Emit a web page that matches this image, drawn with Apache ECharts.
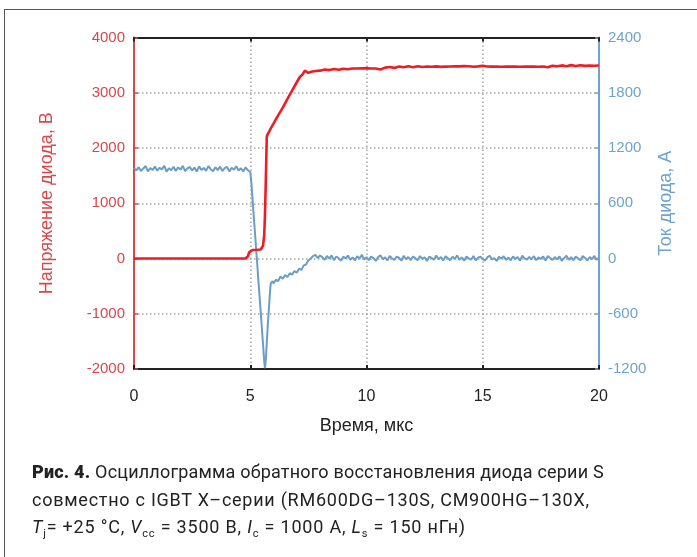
<!DOCTYPE html>
<html>
<head>
<meta charset="utf-8">
<script src="https://cdn.jsdelivr.net/npm/echarts@6/dist/echarts.min.js"></script>
<style>
  html, body { margin:0; padding:0; background:#fff; }
  #wrap { position:relative; width:697px; height:557px; overflow:hidden; }
  #frame { position:absolute; left:4px; top:9px; width:800px; height:700px; border:1.5px solid #555; box-sizing:border-box; }
  #chart { position:absolute; left:0; top:0; width:697px; height:557px; }
  #caption { position:absolute; left:32px; top:458px; font-family:"Roboto", "Liberation Sans", sans-serif; font-size:18px; color:#222; line-height:27.5px; white-space:nowrap; }
  #caption b { font-weight:900; }
  #caption sub { font-size:11px; vertical-align:-4px; }
  #l1 { letter-spacing:0.2px; }
  #l2 { letter-spacing:0.75px; }
  #l3 { letter-spacing:0.8px; }
</style>
</head>
<body>
<div id="wrap">
  <div id="frame"></div>
  <div id="chart"></div>
  <div id="caption">
    <div id="l1"><b>Рис. 4.</b> Осциллограмма обратного восстановления диода серии S</div>
    <div id="l2">совместно с IGBT X–серии (RM600DG–130S, CM900HG–130X,</div>
    <div id="l3"><i>T</i><sub>j</sub>= +25 °C, <i>V</i><sub>cc</sub> = 3500 В, <i>I</i><sub>c</sub> = 1000 А, <i>L</i><sub>s</sub> = 150 нГн)</div>
  </div>
</div>
<script>
// ---- data ----
const xTicks = [0, 5, 10, 15, 20];
const voltageTicks = [-2000, -1000, 0, 1000, 2000, 3000, 4000];
const currentTicks = [-1200, -600, 0, 600, 1200, 1800, 2400];

const timeV = [0, 2, 4.8, 4.85, 4.9, 4.95, 5.0, 5.1, 5.3, 5.45, 5.5, 5.55, 5.6, 5.63, 5.66, 5.69, 5.71, 5.74, 5.78, 5.82, 5.9, 6.0, 6.2, 6.4, 6.6, 6.8, 7.0, 7.14, 7.25, 7.35, 7.42, 7.5, 7.55, 7.62, 7.7, 7.8,
  8.0, 8.2, 8.4, 8.6, 8.8, 9.0, 9.2, 9.4, 9.6, 9.8, 10.0, 10.2, 10.4, 10.6, 10.8, 11.0, 11.2, 11.4, 11.6, 11.8, 12.0, 12.2, 12.4, 12.6, 12.8, 13.0, 13.2, 13.4, 13.6, 13.8, 14.0, 14.2, 14.4, 14.6, 14.8, 15.0, 15.2, 15.4, 15.6, 15.8, 16.0, 16.2, 16.4, 16.6, 16.8, 17.0, 17.2, 17.4, 17.6, 17.8, 18.0, 18.2, 18.4, 18.6, 18.8, 19.0, 19.2, 19.4, 19.6, 19.8, 20.0];
const voltage = [0, 0, 0, 5, 40, 110, 145, 155, 158, 162, 175, 230, 420, 750, 1250, 1800, 2200, 2240, 2220, 2300, 2370, 2440, 2590, 2730, 2890, 3040, 3190, 3290, 3330, 3400, 3420, 3360, 3330, 3380, 3370, 3395,
  3400, 3420, 3410, 3430, 3415, 3435, 3425, 3440, 3438, 3442, 3445, 3440, 3438, 3420, 3455, 3465, 3450, 3475, 3460, 3478, 3462, 3480, 3466, 3476, 3470, 3478, 3468, 3472, 3476, 3480, 3478, 3482, 3480, 3470, 3478, 3488, 3475, 3472, 3474, 3470, 3476, 3472, 3474, 3470, 3475, 3472, 3474, 3470, 3476, 3460, 3490, 3478, 3495, 3480, 3500, 3485, 3498, 3486, 3494, 3488, 3492];

const timeI = [
  0.0, 0.1, 0.2, 0.3, 0.4, 0.5, 0.6, 0.7, 0.8, 0.9, 1.0, 1.1, 1.2, 1.3, 1.4, 1.5, 1.6, 1.7, 1.8, 1.9,
  2.0, 2.1, 2.2, 2.3, 2.4, 2.5, 2.6, 2.7, 2.8, 2.9, 3.0, 3.1, 3.2, 3.3, 3.4, 3.5, 3.6, 3.7, 3.8, 3.9,
  4.0, 4.1, 4.2, 4.3, 4.4, 4.5, 4.6, 4.7, 4.8, 4.9,
  4.95, 5.0, 5.05, 5.1, 5.15, 5.2, 5.25, 5.3, 5.35, 5.4, 5.45, 5.5, 5.55, 5.58, 5.61, 5.63, 5.65, 5.68, 5.71, 5.75, 5.8, 5.85, 5.88, 5.92, 5.96,
  6.0, 6.1, 6.2, 6.3, 6.4, 6.5, 6.6, 6.7, 6.8, 6.9, 7.0, 7.1, 7.2, 7.3, 7.4, 7.5, 7.6, 7.7, 7.8, 7.9, 8.0,
  8.1, 8.2, 8.3, 8.4, 8.5, 8.6, 8.7, 8.8, 8.9, 9.0, 9.1, 9.2, 9.3, 9.4, 9.5, 9.6, 9.7, 9.8, 9.9, 10.0,
  10.1, 10.2, 10.3, 10.4, 10.5, 10.6, 10.7, 10.8, 10.9, 11.0, 11.1, 11.2, 11.3, 11.4, 11.5, 11.6, 11.7, 11.8, 11.9, 12.0,
  12.1, 12.2, 12.3, 12.4, 12.5, 12.6, 12.7, 12.8, 12.9, 13.0, 13.1, 13.2, 13.3, 13.4, 13.5, 13.6, 13.7, 13.8, 13.9, 14.0,
  14.1, 14.2, 14.3, 14.4, 14.5, 14.6, 14.7, 14.8, 14.9, 15.0, 15.1, 15.2, 15.3, 15.4, 15.5, 15.6, 15.7, 15.8, 15.9, 16.0,
  16.1, 16.2, 16.3, 16.4, 16.5, 16.6, 16.7, 16.8, 16.9, 17.0, 17.1, 17.2, 17.3, 17.4, 17.5, 17.6, 17.7, 17.8, 17.9, 18.0,
  18.1, 18.2, 18.3, 18.4, 18.5, 18.6, 18.7, 18.8, 18.9, 19.0, 19.1, 19.2, 19.3, 19.4, 19.5, 19.6, 19.7, 19.8, 19.9, 20.0];
const current = [
  985, 955, 992, 950, 978, 1004, 946, 983, 960, 998, 953, 986, 968, 1008, 944, 980, 958, 996, 950, 990,
  965, 1006, 948, 979, 994, 955, 988, 945, 1000, 962, 984, 952, 1004, 970, 948, 992, 960, 998, 950, 982,
  994, 946, 986, 964, 1002, 955, 980, 945, 990, 958,
  975, 940, 820, 640, 460, 290, 110, -60, -240, -410, -580, -760, -930, -1040, -1140, -1190, -1160, -1060, -920, -740, -550, -360, -270, -290, -245,
  -270, -230, -245, -195, -220, -180, -200, -160, -175, -135, -155, -110, -125, -75, -65, -20, 0, 25, 40, 5, 32,
  15, -14, 28, -2, 34, -18, 22, 5, -24, 20, 0, 32, -15, 12, -22, 25, -2, 40, -10, 14,
  -18, 22, 4, -26, 16, 34, -8, 12, -22, 28, 0, -15, 20, 8, -24, 30, -8, 16, -18, 22,
  4, -20, 27, -4, 14, -26, 20, 6, -13, 32, -10, 16, -22, 25, 2, -18, 18, -6, 34, -15,
  12, -24, 22, -1, -13, 28, -20, 9, 20, -8, -22, 14, 30, -10, 4, -26, 18, -1, 25, -15,
  9, -20, 23, -5, 16, -24, 32, 2, -13, 18, -8, 25, -18, 11, -3, 21, -22, 28, 6, -15,
  16, -10, 23, -24, 4, 30, -13, 14, -20, 21, -1, -18, 26, 6, -22, 16, -6, 28, -13, 8];

// ---- chart ----
const RED = '#ee1c25', RED_TXT = '#d9474a', BLUE = '#6a9ec6', BLUE_TXT = '#6fa3cc', INK = '#222';
const FONT = '"Liberation Sans", Arial, sans-serif';
const dotted = { type: [1.5, 2.5], color: '#a8a8a8', width: 1.5 };
const plain = v => String(v);

const chart = echarts.init(document.getElementById('chart'), null, { renderer: 'canvas' });
chart.setOption({
  animation: false,
  textStyle: { fontFamily: FONT },
  grid: { left: 134, right: 98, top: 37.5, bottom: 188, containLabel: false },
  xAxis: [
    { type: 'value', position: 'bottom', min: xTicks[0], max: xTicks[xTicks.length - 1], interval: 5,
      axisLine: { onZero: false, lineStyle: { color: INK, width: 2 } },
      axisTick: { inside: true, length: 4, lineStyle: { color: INK, width: 2 } },
      axisLabel: { color: INK, fontSize: 16, margin: 20, fontFamily: FONT, formatter: plain },
      splitLine: { show: true, lineStyle: dotted },
      name: 'Время, мкс', nameLocation: 'middle', nameGap: 48,
      nameTextStyle: { color: INK, fontSize: 18, fontFamily: FONT } },
    { type: 'value', position: 'top', min: xTicks[0], max: xTicks[xTicks.length - 1], interval: 5,
      axisLine: { onZero: false, lineStyle: { color: INK, width: 2 } },
      axisTick: { inside: true, length: 4, lineStyle: { color: INK, width: 2 } },
      axisLabel: { show: false }, splitLine: { show: false } }
  ],
  yAxis: [
    { type: 'value', position: 'left', min: voltageTicks[0], max: voltageTicks[voltageTicks.length - 1], interval: 1000,
      axisLine: { show: true, onZero: false, lineStyle: { color: RED_TXT, width: 2 } },
      axisTick: { show: true, inside: true, length: 4, lineStyle: { color: RED_TXT, width: 1.5 } },
      axisLabel: { color: RED_TXT, fontSize: 15, margin: 9, fontFamily: FONT, formatter: plain },
      splitLine: { show: true, lineStyle: dotted },
      name: 'Напряжение диода, В', nameLocation: 'middle', nameGap: 78, nameRotate: 90,
      nameTextStyle: { color: RED_TXT, fontSize: 18, fontFamily: FONT } },
    { type: 'value', position: 'right', min: currentTicks[0], max: currentTicks[currentTicks.length - 1], interval: 600,
      axisLine: { show: true, onZero: false, lineStyle: { color: BLUE_TXT, width: 2 } },
      axisTick: { show: true, inside: true, length: 4, lineStyle: { color: BLUE_TXT, width: 1.5 } },
      axisLabel: { color: BLUE_TXT, fontSize: 15, margin: 9, fontFamily: FONT, formatter: plain },
      splitLine: { show: false },
      name: 'Ток диода, А', nameLocation: 'middle', nameGap: 54, nameRotate: 90,
      nameTextStyle: { color: BLUE_TXT, fontSize: 18, fontFamily: FONT } }
  ],
  series: [
    { name: 'Ток', type: 'line', xAxisIndex: 0, yAxisIndex: 1, showSymbol: false, z: 2,
      lineStyle: { color: BLUE, width: 2 },
      data: timeI.map((t, i) => [t, current[i]]) },
    { name: 'Напряжение', type: 'line', xAxisIndex: 0, yAxisIndex: 0, showSymbol: false, z: 3,
      lineStyle: { color: RED, width: 2.6 },
      data: timeV.map((t, i) => [t, voltage[i]]) }
  ]
});
</script>
</body>
</html>
